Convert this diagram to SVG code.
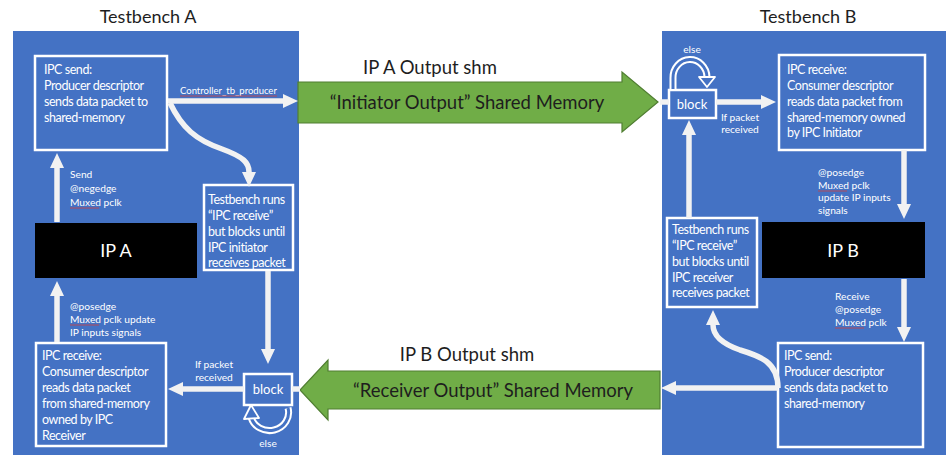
<svg xmlns="http://www.w3.org/2000/svg" width="946" height="455" viewBox="0 0 946 455">
  <defs>
    <marker id="head" viewBox="0 0 15 14" refX="0" refY="7" markerWidth="15" markerHeight="14" markerUnits="userSpaceOnUse" orient="auto">
      <path d="M0,0 L15,7 L0,14 Z" fill="#f2f2f2"/>
    </marker>
  </defs>
  <style>
    .panel { fill: #4472c4; }
    .box { fill: #4472c4; stroke: #ffffff; stroke-width: 2.5; }
    .ip { fill: #000000; }
    .t { font-family: Lato, "Open Sans", sans-serif; font-size: 12.5px; letter-spacing: -0.45px; fill: #ffffff; }
    .s { font-family: Lato, "Open Sans", sans-serif; font-size: 10.2px; fill: #ffffff; }
    .ipt { font-family: Lato, "Open Sans", sans-serif; font-size: 18px; fill: #ffffff; text-anchor: middle; }
    .title { font-family: Lato, "Open Sans", sans-serif; font-size: 18px; fill: #1e1e1e; text-anchor: middle; }
    .gt { font-family: Lato, "Open Sans", sans-serif; font-size: 18.5px; fill: #1e1e1e; text-anchor: middle; }
    .mid { text-anchor: middle; }
    .shm { fill: #70ad47; stroke: #507e32; stroke-width: 1.2; }
    .wire { stroke: #f2f2f2; stroke-width: 5.5; fill: none; }
    .loop { stroke: #ffffff; stroke-width: 7; fill: none; }
    .loopin { stroke: #4472c4; stroke-width: 3; fill: none; }
    .hollow { fill: #4472c4; stroke: #ffffff; stroke-width: 1.8; stroke-linejoin: round; }
    .spell { stroke: #d04040; stroke-width: 0.8; fill: none; }
  </style>

  <!-- testbench panels -->
  <rect class="panel" x="13" y="31" width="286" height="424"/>
  <rect class="panel" x="662" y="31" width="284" height="424"/>
  <text class="title" x="148" y="23">Testbench A</text>
  <text class="title" x="808" y="23">Testbench B</text>

  <!-- shared memory channels -->
  <g id="shm-initiator">
    <path class="shm" d="M298,82 L622,82 L622,72 L658,102 L622,132 L622,123 L298,123 Z"/>
    <text class="gt" x="430" y="74">IP A Output shm</text>
    <text class="gt" x="467" y="109">“Initiator Output” Shared Memory</text>
  </g>
  <g id="shm-receiver">
    <path class="shm" d="M660,371 L328,371 L328,360 L300,390 L328,420 L328,409 L660,409 Z"/>
    <text class="gt" x="467" y="361">IP B Output shm</text>
    <text class="gt" x="493" y="397">“Receiver Output” Shared Memory</text>
  </g>

  <!-- Testbench A nodes -->
  <g id="a-send">
    <rect class="box" x="35" y="56" width="132" height="94"/>
    <text class="t" x="44" y="74">IPC send:</text>
    <text class="t" x="44" y="90">Producer descriptor</text>
    <text class="t" x="44" y="106">sends data packet to</text>
    <text class="t" x="44" y="122">shared-memory</text>
  </g>
  <g id="a-wait">
    <rect class="box" x="204" y="185" width="89" height="85"/>
    <text class="t" x="208" y="204">Testbench runs</text>
    <text class="t" x="208" y="220">“IPC receive”</text>
    <text class="t" x="208" y="236">but blocks until</text>
    <text class="t" x="208" y="252">IPC initiator</text>
    <text class="t" x="208" y="267">receives packet</text>
  </g>
  <g id="ip-a">
    <rect class="ip" x="35" y="223" width="162" height="55"/>
    <text class="ipt" x="116" y="257">IP A</text>
  </g>
  <g id="a-receive">
    <rect class="box" x="36" y="343" width="130" height="103"/>
    <text class="t" x="42" y="360">IPC receive:</text>
    <text class="t" x="42" y="376">Consumer descriptor</text>
    <text class="t" x="42" y="392">reads data packet</text>
    <text class="t" x="42" y="408">from shared-memory</text>
    <text class="t" x="42" y="424">owned by IPC</text>
    <text class="t" x="42" y="440">Receiver</text>
  </g>
  <g id="a-block">
    <rect class="box" x="244" y="374" width="48" height="31"/>
    <text class="t mid" x="268" y="394" style="font-size:13px;letter-spacing:0">block</text>
  </g>

  <!-- Testbench B nodes -->
  <g id="b-block">
    <rect class="box" x="669" y="90" width="47" height="28"/>
    <text class="t mid" x="692" y="109" style="font-size:13px;letter-spacing:0">block</text>
  </g>
  <g id="b-receive">
    <rect class="box" x="779" y="55" width="146" height="95"/>
    <text class="t" x="787" y="74">IPC receive:</text>
    <text class="t" x="787" y="90">Consumer descriptor</text>
    <text class="t" x="787" y="106">reads data packet from</text>
    <text class="t" x="787" y="122">shared-memory owned</text>
    <text class="t" x="787" y="137">by IPC Initiator</text>
  </g>
  <g id="ip-b">
    <rect class="ip" x="762" y="222" width="163" height="56"/>
    <text class="ipt" x="843" y="257">IP B</text>
  </g>
  <g id="b-wait">
    <rect class="box" x="667" y="218" width="90" height="89"/>
    <text class="t" x="672" y="234">Testbench runs</text>
    <text class="t" x="672" y="250">“IPC receive”</text>
    <text class="t" x="672" y="266">but blocks until</text>
    <text class="t" x="672" y="282">IPC receiver</text>
    <text class="t" x="672" y="297">receives packet</text>
  </g>
  <g id="b-send">
    <rect class="box" x="778" y="343" width="145" height="104"/>
    <text class="t" x="784" y="360">IPC send:</text>
    <text class="t" x="784" y="376">Producer descriptor</text>
    <text class="t" x="784" y="392">sends data packet to</text>
    <text class="t" x="784" y="408">shared-memory</text>
  </g>

  <!-- connectors -->
  <g id="connectors">
    <!-- Testbench A -->
    <line class="wire" x1="168" y1="101" x2="283" y2="101" marker-end="url(#head)"/>
    <path class="wire" d="M170,103 C182,128 196,140 222,149 C244,157 249,163 249,172" marker-end="url(#head)"/>
    <line class="wire" x1="57" y1="222" x2="57" y2="168" marker-end="url(#head)"/>
    <line class="wire" x1="57" y1="342" x2="57" y2="296" marker-end="url(#head)"/>
    <line class="wire" x1="268" y1="271" x2="268" y2="349" marker-end="url(#head)"/>
    <line class="wire" x1="244" y1="389" x2="183" y2="389" marker-end="url(#head)"/>
    <line class="wire" x1="292" y1="389" x2="300" y2="389"/>
    <path class="loop" d="M251,417 A19 18 0 0 0 288,408"/>
    <path class="loopin" d="M251,417 A19 18 0 0 0 288,408"/>
    <path class="hollow" d="M251,405 L259,418 L244,419 Z"/>

    <!-- Testbench B -->
    <line class="wire" x1="660" y1="102" x2="669" y2="102"/>
    <line class="wire" x1="716" y1="102" x2="761" y2="102" marker-end="url(#head)"/>
    <line class="wire" x1="904" y1="150" x2="904" y2="204" marker-end="url(#head)"/>
    <line class="wire" x1="689" y1="218" x2="689" y2="135" marker-end="url(#head)"/>
    <line class="wire" x1="904" y1="279" x2="904" y2="327" marker-end="url(#head)"/>
    <line class="wire" x1="778" y1="388" x2="676" y2="388" marker-end="url(#head)"/>
    <path class="wire" d="M778,388 C778,362 760,356 740,350 C720,343 713,335 713,325" marker-end="url(#head)"/>
    <path class="loop" d="M673,89 L673,78 A17 18 0 0 1 707,77"/>
    <path class="loopin" d="M673,89 L673,78 A17 18 0 0 1 707,77"/>
    <path class="hollow" d="M699,77 L715,77 L707,87 Z"/>
  </g>

  <!-- connector labels -->
  <text class="s" x="180" y="94" style="font-size:9.5px">Controller_tb_producer</text>
  <line class="spell" x1="180" y1="96" x2="277" y2="96"/>
  <text class="s" x="70" y="178">Send</text>
  <text class="s" x="70" y="192">@negedge</text>
  <text class="s" x="70" y="206">Muxed pclk</text>
  <line class="spell" x1="70" y1="208" x2="99" y2="208"/>
  <text class="s" x="70" y="310">@posedge</text>
  <text class="s" x="70" y="323">Muxed pclk update</text>
  <line class="spell" x1="70" y1="325" x2="99" y2="325"/>
  <text class="s" x="70" y="336">IP inputs signals</text>
  <text class="s mid" x="214" y="368">If packet</text>
  <text class="s mid" x="214" y="381">received</text>
  <text class="s mid" x="268" y="447">else</text>

  <text class="s mid" x="692" y="53">else</text>
  <text class="s mid" x="740" y="121">If packet</text>
  <text class="s mid" x="740" y="133">received</text>
  <text class="s" x="818" y="176">@posedge</text>
  <text class="s" x="818" y="189">Muxed pclk</text>
  <line class="spell" x1="818" y1="191" x2="847" y2="191"/>
  <text class="s" x="818" y="201">update IP inputs</text>
  <text class="s" x="818" y="214">signals</text>
  <text class="s" x="835" y="300">Receive</text>
  <text class="s" x="835" y="313">@posedge</text>
  <text class="s" x="835" y="326">Muxed pclk</text>
  <line class="spell" x1="835" y1="328" x2="864" y2="328"/>
</svg>
